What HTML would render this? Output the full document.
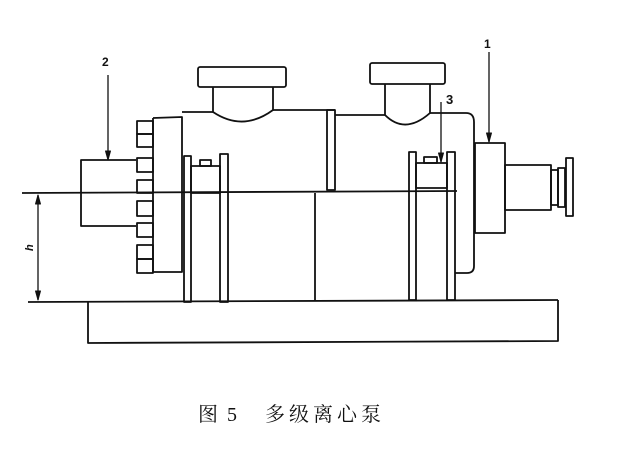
<!DOCTYPE html>
<html><head><meta charset="utf-8"><style>
html,body{margin:0;padding:0;background:#fff;}
svg{display:block;}
</style></head><body>
<svg width="640" height="458" viewBox="0 0 640 458" xmlns="http://www.w3.org/2000/svg">
<g fill="none" stroke="#111" stroke-width="1.8" stroke-linejoin="round">
<line x1="22" y1="193" x2="457" y2="191"/>
<line x1="28" y1="302" x2="558" y2="300"/>
<polyline points="88,302 88,343 558,341 558,300"/>
<line x1="38" y1="195" x2="38" y2="300" stroke-width="1.3"/>
<polygon points="38,195 35.5,204 40.5,204" fill="#111" stroke-width="1"/>
<polygon points="38,300 35.5,291 40.5,291" fill="#111" stroke-width="1"/>
<polyline points="136,160 81,160 81,226 136,226"/>
<rect x="137" y="121" width="16" height="13"/>
<rect x="137" y="134" width="16" height="13"/>
<rect x="137" y="158" width="16" height="14"/>
<rect x="137" y="180" width="16" height="13"/>
<rect x="137" y="201" width="16" height="15"/>
<rect x="137" y="223" width="16" height="14"/>
<rect x="137" y="245" width="16" height="14"/>
<rect x="137" y="259" width="16" height="14"/>
<polyline points="153,118 182,117 182,272 153,272 153,118"/>
<polyline points="182,112 213,112"/>
<polyline points="273,110 335,110"/>
<rect x="198" y="67" width="88" height="20" rx="2"/>
<path d="M213,87 L213,112 Q243,132 273,110 L273,87"/>
<rect x="184" y="156" width="7" height="146"/>
<rect x="220" y="154" width="8" height="148"/>
<rect x="191" y="166" width="29" height="27"/>
<rect x="200" y="160" width="11" height="6"/>
<line x1="315" y1="193" x2="315" y2="301"/>
<rect x="327" y="110" width="8" height="80"/>
<path d="M335,115 L385,115"/>
<path d="M430,113 L466,113 Q474,113 474,122 L474,266 Q474,273 467,273 L455,273"/>
<rect x="370" y="63" width="75" height="21" rx="2"/>
<path d="M385,84 L385,115 Q405,135 430,113 L430,84"/>
<rect x="409" y="152" width="7" height="148"/>
<rect x="447" y="152" width="8" height="148"/>
<rect x="416" y="163" width="31" height="25"/>
<rect x="424" y="157" width="13" height="6"/>
<rect x="475" y="143" width="30" height="90"/>
<rect x="505" y="165" width="46" height="45"/>
<rect x="551" y="170" width="7" height="35"/>
<rect x="558" y="168" width="7" height="39"/>
<rect x="566" y="158" width="7" height="58"/>
<line x1="108" y1="75" x2="108" y2="160" stroke-width="1.3"/>
<polygon points="108,160 105.5,151 110.5,151" fill="#111" stroke-width="1"/>
<line x1="489" y1="52" x2="489" y2="142" stroke-width="1.3"/>
<polygon points="489,142 486.5,133 491.5,133" fill="#111" stroke-width="1"/>
<line x1="441" y1="102" x2="441" y2="162" stroke-width="1.3"/>
<polygon points="441,162 438.5,153 443.5,153" fill="#111" stroke-width="1"/>
</g>
<g font-family="Liberation Sans, sans-serif" font-weight="bold" fill="#111">
<text x="102" y="66" font-size="12">2</text>
<text x="484" y="48" font-size="12">1</text>
<text x="446" y="104" font-size="13">3</text>
<text x="0" y="0" font-size="11" font-style="italic" transform="translate(33,251) rotate(-90)">h</text>
</g>
<text x="198" y="421" font-family="Liberation Serif, 'Noto Serif CJK SC', serif" font-size="20" fill="#111">图<tspan x="227">5</tspan><tspan x="265" letter-spacing="4">多级离心泵</tspan></text>
</svg>
</body></html>
